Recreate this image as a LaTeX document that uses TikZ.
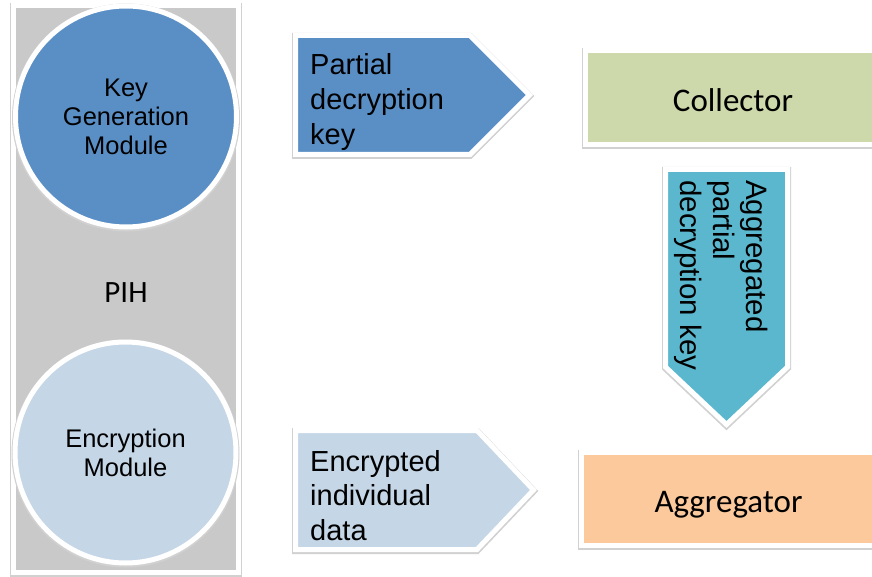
\documentclass[tikz,border=0pt]{standalone}
\usepackage{fontspec}
\setmainfont{Liberation Sans}
\newfontfamily\carlito{Carlito}
\definecolor{pihgray}{RGB}{201,201,201}
\definecolor{keyblue}{RGB}{90,143,198}
\definecolor{lightblue}{RGB}{197,214,231}
\definecolor{colgreen}{RGB}{205,217,170}
\definecolor{teal}{RGB}{91,183,206}
\definecolor{peach}{RGB}{251,201,156}
\tikzset{
  framed/.style={fill=#1, draw=white, line width=5pt, line join=miter,
    preaction={draw=black!18, line width=7pt, transform canvas={yshift=-1pt}}},
  modcircle/.style={circle, framed=#1, minimum size=221pt, inner sep=0pt,
    font=\fontsize{25.5}{29}\selectfont, align=center, text=black},
  arrowtext/.style={inner sep=0pt, align=left, text=black},
  boxtext/.style={inner sep=0pt, font=\carlito\fontsize{33}{38}\selectfont, text=black}
}
\begin{document}
\begin{tikzpicture}[x=1pt, y=-1pt]
\useasboundingbox (0,0) rectangle (872,577);
\clip (0,0) rectangle (872,577);
% PIH container
\path[framed=pihgray] (13.5,5.5) rectangle (238,572.5);
\node[inner sep=0pt, font=\carlito\fontsize{31}{35}\selectfont] (pih) at (126,293) {PIH};
% modules
\node[modcircle=keyblue] (keygen) at (126,116.5) {Key\\Generation\\Module};
\node[modcircle=lightblue] (encmod) at (125.5,452.5) {Encryption\\Module};
% partial decryption key arrow
\path[framed=keyblue] (295.5,35.5) -- (470,35.5) -- (529.5,95) -- (470,154.5) -- (295.5,154.5) -- cycle;
\node[arrowtext, anchor=north west, font=\fontsize{29}{35}\selectfont] (pdk) at (310,53) {Partial\\decryption\\key};
% collector
\path[framed=colgreen] (585.5,50.5) rectangle (885,144.5);
\node[boxtext, anchor=base] (collector) at (733,112) {Collector};
% aggregated partial decryption key arrow
\path[framed=teal] (665.5,169.5) -- (787.5,169.5) -- (787.5,367) -- (726.5,424.5) -- (665.5,367) -- cycle;
\node[arrowtext, rotate=-90, anchor=north west, font=\fontsize{29.5}{33}\selectfont] (apdk) at (768,180) {Aggregated\\partial\\decryption key};
% encrypted individual data arrow
\path[framed=lightblue] (295.5,430.5) -- (477,430.5) -- (533.5,490) -- (477,549.5) -- (295.5,549.5) -- cycle;
\node[arrowtext, anchor=north west, font=\fontsize{29}{34.5}\selectfont] (eid) at (310,450) {Encrypted\\individual\\data};
% aggregator
\path[framed=peach] (581.5,452.5) rectangle (885,545.5);
\node[boxtext, anchor=base] (aggregator) at (728.5,512) {Aggregator};
\end{tikzpicture}
\end{document}
